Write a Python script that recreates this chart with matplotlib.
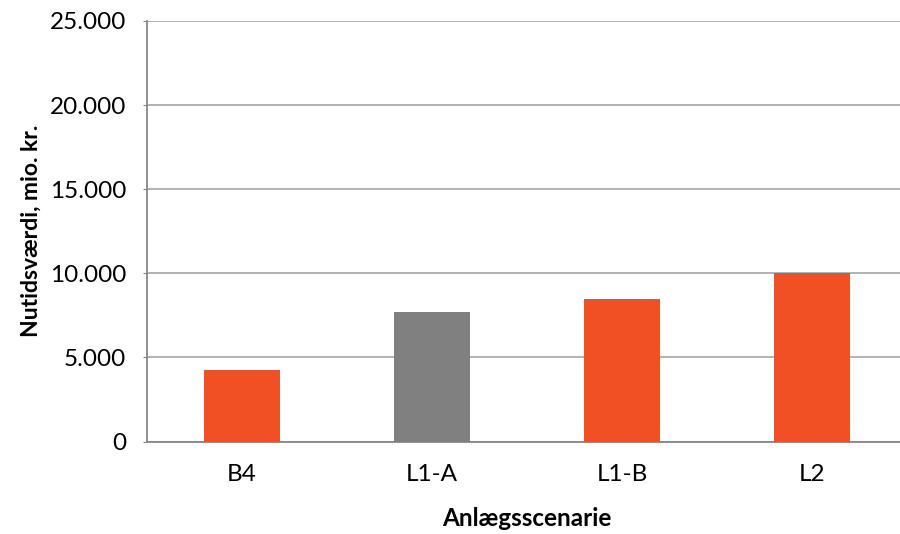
import matplotlib
matplotlib.use("Agg")
import matplotlib.pyplot as plt
from matplotlib.ticker import FuncFormatter

categories = ["B4", "L1-A", "L1-B", "L2"]
values = [4250, 7700, 8450, 10000]
bar_colors = ["#F05023", "#808080", "#F05023", "#F05023"]
y_ticks = [0, 5000, 10000, 15000, 20000, 25000]

plt.rcParams["font.family"] = ["Lato", "DejaVu Sans"]

fig = plt.figure(figsize=(9, 5.34), dpi=100)
ax = fig.add_axes([147 / 900, 1 - 441.5 / 534, 760 / 900, 420.5 / 534])

x = list(range(len(categories)))
ax.bar(x, values, width=0.4, color=bar_colors, zorder=3)

ax.set_xlim(-0.5, len(categories) - 0.5)
ax.set_ylim(0, 25000)
ax.set_yticks(y_ticks)
ax.yaxis.set_major_formatter(
    FuncFormatter(lambda v, _: f"{int(v):,}".replace(",", "."))
)
ax.set_xticks(x)
ax.set_xticklabels(categories)

ax.grid(axis="y", color="#a6a6a6", linewidth=1.2, zorder=0)
for side in ("top", "right"):
    ax.spines[side].set_visible(False)
for side in ("left", "bottom"):
    ax.spines[side].set_color("#868686")
    ax.spines[side].set_linewidth(1.3)

ax.tick_params(axis="y", length=3, color="#868686", labelsize=17.5,
               labelcolor="black", pad=12)
ax.tick_params(axis="x", length=0, labelsize=17.5, labelcolor="black", pad=16)

ax.set_ylabel("Nutidsværdi, mio. kr.", fontsize=16.5, fontweight="bold",
              va="center")
ax.yaxis.set_label_coords(-0.152, 0.5)
ax.set_xlabel("Anlægsscenarie", fontsize=17.5, fontweight="bold", va="center")
ax.xaxis.set_label_coords(0.5, -0.182)

fig.savefig("out.png", dpi=100)
